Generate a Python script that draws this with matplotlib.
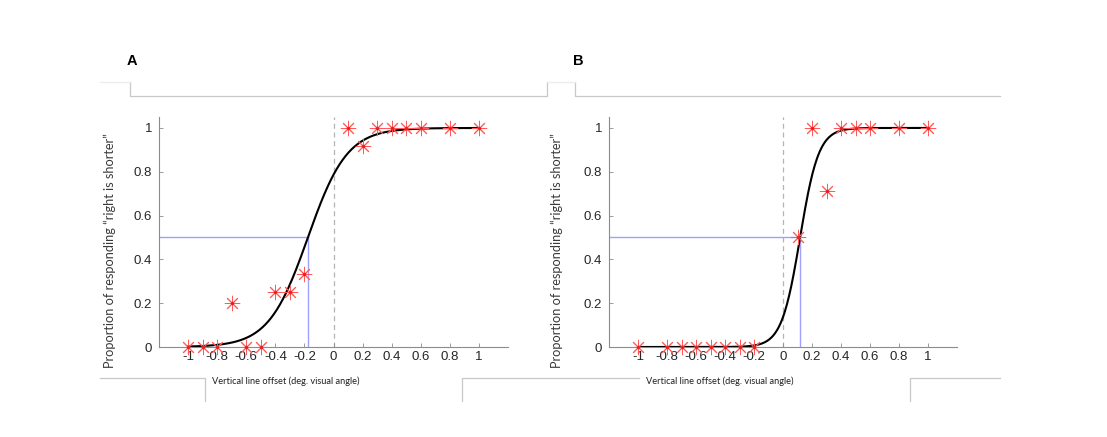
import numpy as np
import matplotlib
matplotlib.use("Agg")
import matplotlib.pyplot as plt
from matplotlib.lines import Line2D

plt.rcParams['axes.unicode_minus'] = False

# ---- data ----
xA = [-1, -0.9, -0.8, -0.7, -0.6, -0.5, -0.4, -0.3, -0.2, 0.1, 0.2, 0.3, 0.4, 0.5, 0.6, 0.8, 1]
yA = [0, 0, 0, 0.2, 0, 0, 0.25, 0.25, 0.333, 1, 0.917, 1, 1, 1, 1, 1, 1]
xB = [-1, -0.8, -0.7, -0.6, -0.5, -0.4, -0.3, -0.2, 0.1, 0.2, 0.3, 0.4, 0.5, 0.6, 0.8, 1]
yB = [0, 0, 0, 0, 0, 0, 0, 0, 0.5, 1, 0.714, 1, 1, 1, 1, 1]
# logistic fit parameters (PSE, slope scale)
fitA = (-0.176, 0.135)
fitB = (0.118, 0.064)
xticks = [-1, -0.8, -0.6, -0.4, -0.2, 0, 0.2, 0.4, 0.6, 0.8, 1]
xticklabels = ['-1', '-0.8', '-0.6', '-0.4', '-0.2', '0', '0.2', '0.4', '0.6', '0.8', '1']
yticks = [0, 0.2, 0.4, 0.6, 0.8, 1]
yticklabels = ['0', '0.2', '0.4', '0.6', '0.8', '1']
panel_labels = ['A', 'B']
xlabel = 'Vertical line offset (deg. visual angle)'
ylabel = 'Proportion of responding \u201cright is shorter\u201d'

W, H = 1107, 437
fig = plt.figure(figsize=(W / 100, H / 100), dpi=100)

def fx(px):
    return px / W

def fy(py):
    return 1 - py / H

def logistic(x, mu, s):
    return 1.0 / (1.0 + np.exp(-(x - mu) / s))

axes_px = [(159, 508), (609, 957)]
top_px, bot_px = 117, 347
datasets = [(xA, yA, fitA), (xB, yB, fitB)]

for (l, r), (xs, ys, (mu, s)) in zip(axes_px, datasets):
    ax = fig.add_axes([fx(l), fy(bot_px), (r - l) / W, (bot_px - top_px) / H])
    ax.set_xlim(-1.2, 1.2)
    ax.set_ylim(0, 1.05)
    for sp in ['top', 'right']:
        ax.spines[sp].set_visible(False)
    for sp in ['left', 'bottom']:
        ax.spines[sp].set_color('#8c8c8c')
        ax.spines[sp].set_linewidth(0.8)
    ax.set_xticks(xticks)
    ax.set_xticklabels(xticklabels)
    ax.set_yticks(yticks)
    ax.set_yticklabels(yticklabels)
    ax.tick_params(direction='in', length=3, width=0.6, color='#8c8c8c',
                   labelsize=9.5, labelcolor='#262626')
    ax.tick_params(axis='x', pad=3)
    ax.tick_params(axis='y', pad=5)
    for t in ax.get_xticklabels() + ax.get_yticklabels():
        t.set_fontfamily('Liberation Sans')
    # reference lines
    ax.axvline(0, color='#b4b4b4', lw=0.9, dashes=(4, 3), zorder=1)
    ax.plot([-1.2, mu], [0.5, 0.5], color='#a0a0ff', lw=1.0, zorder=2)
    ax.plot([mu, mu], [0, 0.5], color='#a0a0ff', lw=1.0, zorder=2)
    # fit
    xx = np.linspace(-1, 1, 400)
    ax.plot(xx, logistic(xx, mu, s), color='black', lw=1.5, zorder=3)
    # data
    ax.plot(xs, ys, linestyle='none', marker=(8, 2, 0), markersize=11,
            markeredgecolor='#ff5a5a', markeredgewidth=0.7, zorder=4, clip_on=False)
    ax.plot(xs, ys, linestyle='none', marker='o', markersize=1.4,
            color='#e82020', zorder=5, clip_on=False)

# y labels
for xpos in [110, 557]:
    fig.text(fx(xpos), fy(251), ylabel, rotation=90, ha='center', va='center',
             fontsize=9.2, family='Lato', color='#3a3a3a')
# x labels
for xpos in [212, 646]:
    fig.text(fx(xpos), fy(381), xlabel, ha='left', va='center',
             fontsize=6.7, family='Lato', color='#202020')
# panel letters
for xpos, lab in zip([132, 578], panel_labels):
    fig.text(fx(xpos), fy(61), lab, ha='center', va='center', fontsize=10.5,
             fontweight='bold', family='Liberation Sans', color='black')

# faint frame lines
frame_main = [
    [(130, 82), (130, 96), (547, 96), (547, 82)],
    [(575, 82), (575, 96), (1000, 96)],
    [(100, 378), (205, 378), (205, 401)],
    [(462, 401), (462, 378), (639, 378)],
    [(910, 401), (910, 378), (1000, 378)],
]
frame_faint = [
    [(100, 82), (130, 82)],
    [(547, 82), (575, 82)],
]
for pts in frame_main:
    fig.add_artist(Line2D([fx(p[0]) for p in pts], [fy(p[1]) for p in pts],
                          transform=fig.transFigure, color='#c8c8c8', lw=0.9))
for pts in frame_faint:
    fig.add_artist(Line2D([fx(p[0]) for p in pts], [fy(p[1]) for p in pts],
                          transform=fig.transFigure, color='#ececec', lw=0.9))

fig.savefig('out.png', dpi=100, facecolor='white')
